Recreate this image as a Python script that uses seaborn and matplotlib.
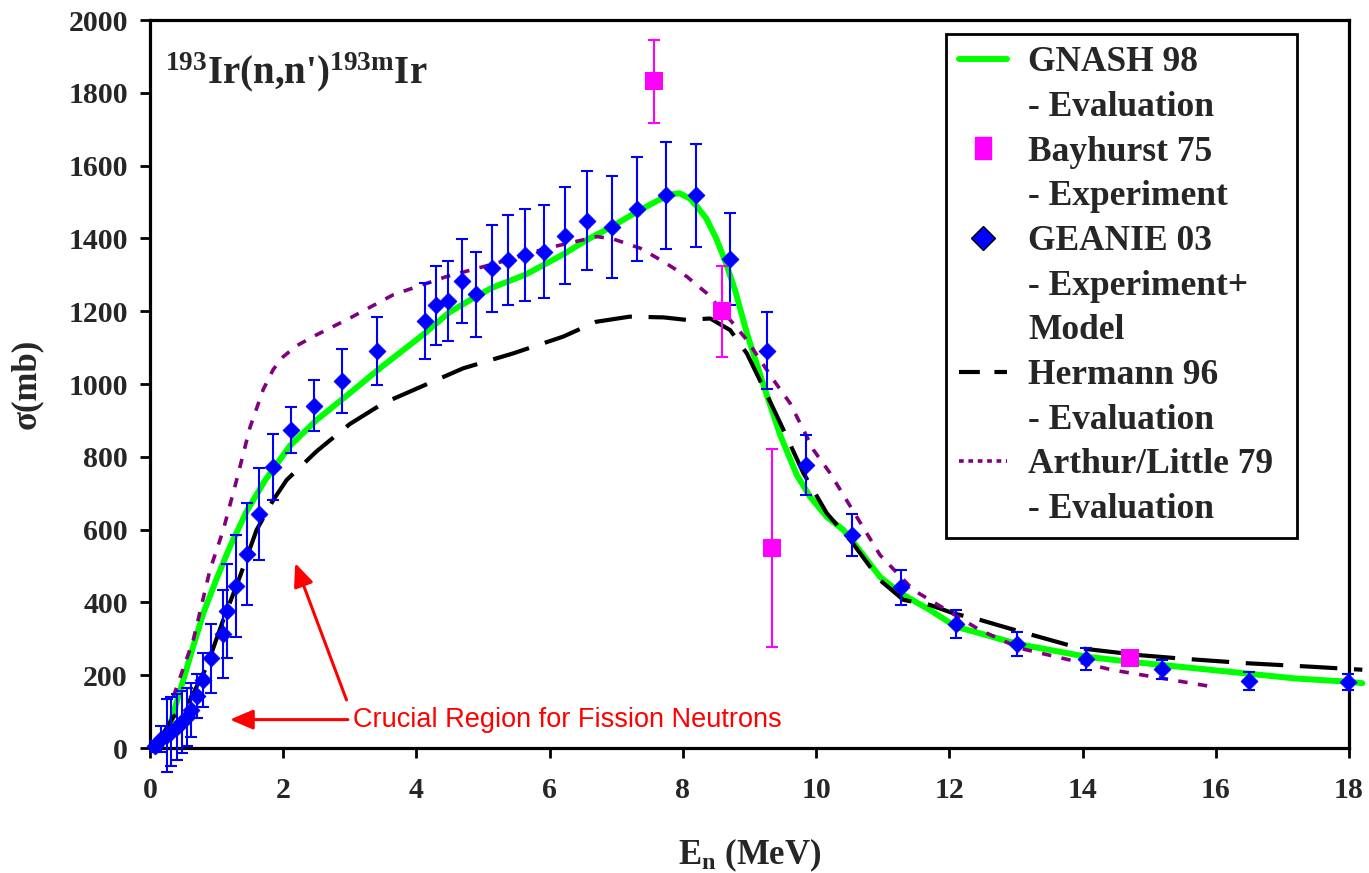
import matplotlib
matplotlib.use("Agg")
import matplotlib.pyplot as plt
from matplotlib.lines import Line2D
import seaborn as sns

# ---------------- data ----------------
# GNASH 98 evaluation
gnash_e = [0.25, 0.35, 0.5, 0.65, 0.8, 1.0, 1.2, 1.45, 1.73, 2.1, 2.5, 3.0, 3.45,
           4.13, 4.48, 4.89, 5.13, 5.63, 5.96, 6.23, 6.56, 6.93, 7.31, 7.6, 7.8,
           7.95, 8.1, 8.2, 8.35, 8.5, 8.63, 8.78, 8.96, 9.2, 9.46, 9.71, 9.91,
           10.16, 10.41, 10.54, 10.96, 11.27, 11.71, 12.1, 12.46, 13.02, 14.05,
           14.71, 15.2, 15.96, 17.2, 17.99, 18.2]
gnash_s = [30, 95, 187, 280, 370, 465, 553, 650, 736, 830, 901, 975, 1043,
           1140, 1195, 1240, 1264, 1300, 1332, 1359, 1396, 1432, 1473, 1502, 1520,
           1524, 1510, 1490, 1455, 1400, 1340, 1260, 1140, 1003, 860, 750, 690,
           635, 599, 570, 470, 425, 379, 333, 315, 286, 251,
           237, 228, 214, 191, 182, 178]

# Hermann 96 evaluation
herm_e = [0.08, 0.35, 0.6, 0.85, 1.1, 1.35, 1.6, 1.85, 2.05, 2.5, 3.0, 3.5, 3.95,
          4.7, 5.45, 6.2, 6.7, 7.2, 7.71, 8.06, 8.41, 8.71, 8.96, 9.21, 9.51, 9.81,
          10.16, 10.54, 10.96, 11.31, 11.71, 12.06, 12.46, 13.06, 13.96, 14.86,
          15.46, 16.46, 17.46, 18.2]
herm_s = [5, 85, 132, 223, 352, 471, 599, 681, 736, 815, 890, 947, 983,
          1043, 1084, 1130, 1171, 1185, 1183, 1176, 1180, 1148, 1084, 990, 874, 755,
          645, 565, 461, 407, 393, 370, 352, 320, 274, 255,
          246, 233, 223, 215]

# Arthur/Little 79 evaluation
arth_e = [0.35, 0.65, 0.9, 1.1, 1.3, 1.5, 1.7, 1.85, 2.0, 2.2, 2.5, 3.0, 3.65,
          4.45, 5.2, 5.96, 6.71, 6.96, 7.36, 7.71, 8.06, 8.36, 8.71, 8.96, 9.36,
          9.61, 9.96, 10.21, 10.61, 10.96, 11.46, 11.96, 12.46, 13.06, 13.71,
          14.46, 15.21, 15.96]
arth_s = [141, 297, 489, 599, 736, 880, 985, 1040, 1075, 1105, 1135, 1181, 1245,
          1295, 1332, 1373, 1405, 1398, 1373, 1336, 1295, 1249, 1176, 1121, 1011,
          947, 819, 755, 635, 530, 434, 379, 324, 274, 246,
          214, 191, 168]

# GEANIE 03 experiment + model
geanie_e = [0.08, 0.17, 0.25, 0.32, 0.40, 0.48, 0.55, 0.62, 0.70, 0.80, 0.92, 1.09,
            1.16, 1.29, 1.45, 1.64, 1.85, 2.12, 2.46, 2.88, 3.41, 4.13, 4.29, 4.48,
            4.69, 4.89, 5.13, 5.38, 5.63, 5.92, 6.23, 6.56, 6.93, 7.31, 7.74, 8.20,
            8.71, 9.26, 9.85, 10.54, 11.27, 12.10, 13.02, 14.05, 15.20, 16.50, 17.99]
geanie_s = [5, 25, 35, 45, 58, 72, 86, 104, 143, 187, 247, 313,
            376, 445, 533, 643, 772, 874, 940, 1008, 1091, 1173, 1216, 1228,
            1283, 1247, 1318, 1341, 1354, 1364, 1407, 1449, 1432, 1480, 1518, 1518,
            1343, 1092, 777, 585, 441, 341, 286, 245, 216, 184, 182]
geanie_err = [15, 35, 100, 95, 90, 85, 80, 75, 60, 75, 95, 120,
              130, 140, 140, 126, 92, 63, 70, 87, 93, 104, 108, 111,
              115, 117, 120, 123, 126, 129, 133, 137, 140, 143, 146, 142,
              127, 106, 82, 58, 47, 38, 32, 30, 27, 24, 22]

# Bayhurst 75 experiment
bay_e = [7.57, 8.59, 9.34, 14.71]
bay_s = [1832, 1200, 549, 248]
bay_err = [114, 125, 272, 12]

x_ticks = [0, 2, 4, 6, 8, 10, 12, 14, 16, 18]
y_ticks = [0, 200, 400, 600, 800, 1000, 1200, 1400, 1600, 1800, 2000]

legend_rows = [("GNASH 98", "gnash"), ("- Evaluation", None),
               ("Bayhurst 75", "bay"), ("- Experiment", None),
               ("GEANIE 03", "geanie"), ("- Experiment+", None), ("Model", None),
               ("Hermann 96", "herm"), ("- Evaluation", None),
               ("Arthur/Little 79", "arth"), ("- Evaluation", None)]

# ---------------- style ----------------
sns.set_style("white")
plt.rcParams["font.family"] = ["Liberation Serif", "DejaVu Serif"]
plt.rcParams["font.weight"] = "bold"
plt.rcParams["mathtext.fontset"] = "custom"
plt.rcParams["mathtext.rm"] = "Liberation Serif:bold"
plt.rcParams["mathtext.it"] = "Liberation Serif:bold"
plt.rcParams["mathtext.bf"] = "Liberation Serif:bold"

GREEN = "#00FF00"
MAGENTA = "#FF00FF"
BLUE = "#0000FF"
PURPLE = "#800080"

fig = plt.figure(figsize=(13.69, 8.73), dpi=100)
ax = fig.add_axes([0.10957, 0.14318, 0.87582, 0.83391])

# evaluation curves
sns.lineplot(x=gnash_e, y=gnash_s, ax=ax, color=GREEN, linewidth=4.3,
             sort=False, estimator=None, clip_on=False, zorder=2, legend=False)
sns.lineplot(x=herm_e, y=herm_s, ax=ax, color="black", linewidth=3.0,
             linestyle=(0, (9, 4)), sort=False, estimator=None, clip_on=False,
             zorder=2, legend=False)
sns.lineplot(x=arth_e, y=arth_s, ax=ax, color=PURPLE, linewidth=2.6,
             linestyle=(0, (2.6, 2.9)), sort=False, estimator=None,
             zorder=2, legend=False)


def no_clip(container):
    for part in container.lines:
        if part is None:
            continue
        items = part if isinstance(part, tuple) else (part,)
        for it in items:
            it.set_clip_on(False)


# GEANIE points with error bars
eb = ax.errorbar(geanie_e, geanie_s, yerr=geanie_err, fmt="none", ecolor=BLUE,
                 elinewidth=1.5, capsize=4.3, capthick=1.5, zorder=3)
no_clip(eb)
sns.scatterplot(x=geanie_e, y=geanie_s, ax=ax, marker="D", s=75, color=BLUE,
                edgecolor=BLUE, linewidth=0.5, zorder=4, clip_on=False, legend=False)

# Bayhurst points with error bars
eb2 = ax.errorbar(bay_e, bay_s, yerr=bay_err, fmt="none", ecolor=MAGENTA,
                  elinewidth=1.5, capsize=4.3, capthick=1.5, zorder=3)
no_clip(eb2)
sns.scatterplot(x=bay_e, y=bay_s, ax=ax, marker="s", s=185, color=MAGENTA,
                edgecolor=MAGENTA, linewidth=0, zorder=5, legend=False)

# axes
ax.set_xlim(0, 18)
ax.set_ylim(0, 2000)
ax.set_xticks(x_ticks)
ax.set_xticklabels([str(v) for v in x_ticks])
ax.set_yticks(y_ticks)
ax.set_yticklabels([str(v) for v in y_ticks])
for sp in ax.spines.values():
    sp.set_visible(True)
    sp.set_color("black")
    sp.set_linewidth(2.3)
ax.tick_params(axis="both", which="major", direction="out", length=7, width=2,
               color="black", labelsize=21.5, left=True, bottom=True)
ax.tick_params(axis="x", pad=14)
ax.tick_params(axis="y", pad=9)
for lab in ax.get_xticklabels() + ax.get_yticklabels():
    lab.set_fontweight("bold")

ax.set_xlabel(r"E$_{\mathrm{n}}$ (MeV)", fontsize=25, fontweight="bold")
ax.set_ylabel("σ(mb)", fontsize=25, fontweight="bold")
ax.xaxis.set_label_coords(0.5, -0.122)
ax.yaxis.set_label_coords(-0.089, 0.5)

# reaction label
ax.text(0.0125, 0.913, r"$^{\mathrm{193}}$Ir(n,n')$^{\mathrm{193m}}$Ir",
        transform=ax.transAxes, fontsize=28, fontweight="bold", va="baseline",
        ha="left")

# annotation
ax.text(3.05, 78, "Crucial Region for Fission Neutrons", color="red",
        fontsize=19.5, fontweight="normal", family=["Liberation Sans", "DejaVu Sans"],
        va="center", ha="left")
arrow_kw = dict(arrowstyle="-|>,head_length=0.7,head_width=0.3", color="red",
                lw=2.2, mutation_scale=20, shrinkA=0, shrinkB=0)
ax.annotate("", xy=(1.2, 78), xytext=(2.97, 78), arrowprops=arrow_kw)
ax.annotate("", xy=(2.18, 508), xytext=(2.95, 132), arrowprops=arrow_kw)

# legend
tall_rect = [(-0.37, -0.5), (0.37, -0.5), (0.37, 0.5), (-0.37, 0.5), (-0.37, -0.5)]
proxies = {
    "gnash": Line2D([], [], color=GREEN, lw=4.3),
    "bay": Line2D([], [], linestyle="none", marker=tall_rect, markersize=16.5,
                  markerfacecolor=MAGENTA, markeredgecolor=MAGENTA),
    "geanie": Line2D([], [], linestyle="none", marker="D", markersize=12,
                     markerfacecolor=BLUE, markeredgecolor="black",
                     markeredgewidth=1),
    "herm": Line2D([], [], color="black", lw=3.0, linestyle=(0, (5, 3.5))),
    "arth": Line2D([], [], color=PURPLE, lw=2.6, linestyle=(0, (1.3, 1.3))),
}
handles, labels = [], []
for text, key in legend_rows:
    if key is None:
        handles.append(Line2D([], [], linestyle="none"))
    else:
        handles.append(proxies[key])
    labels.append(text)

leg = ax.legend(handles, labels, loc="upper left",
                bbox_to_anchor=(0.664, 0.981, 0.2928, 0.0), mode="expand",
                borderaxespad=0, frameon=True, fancybox=False,
                framealpha=1, edgecolor="black", handlelength=1.38,
                handletextpad=0.58, borderpad=0.35, labelspacing=0.33,
                prop={"family": "Liberation Serif", "weight": "bold", "size": 25.5})
leg.get_frame().set_linewidth(2.0)

fig.savefig("out.png", dpi=100)
